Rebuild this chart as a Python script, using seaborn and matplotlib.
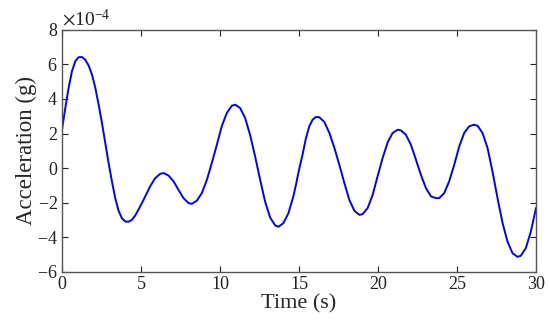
import seaborn as sns
import matplotlib.pyplot as plt
import matplotlib.ticker as mticker
import pandas as pd

# values (acceleration in units of 1e-4 g)
time_s = [0, 0.21, 0.42, 0.63, 0.84, 1.05, 1.26, 1.47, 1.69, 1.9, 2.11, 2.32, 2.53,
          2.74, 2.95, 3.16, 3.37, 3.58, 3.79, 4.0, 4.21, 4.42, 4.64, 4.95, 5.27,
          5.58, 5.9, 6.22, 6.43, 6.74, 7.06, 7.37, 7.69, 8.01, 8.22, 8.53, 8.85,
          9.17, 9.48, 9.8, 10.11, 10.43, 10.75, 10.96, 11.27, 11.59, 11.9, 12.22,
          12.54, 12.85, 13.17, 13.49, 13.7, 14.01, 14.33, 14.64, 14.81, 14.98,
          15.23, 15.44, 15.65, 15.86, 16.07, 16.29, 16.6, 16.92, 17.24, 17.55,
          17.87, 18.18, 18.5, 18.82, 19.02, 19.34, 19.66, 19.97, 20.29, 20.61,
          20.92, 21.24, 21.45, 21.76, 22.08, 22.4, 22.71, 23.03, 23.35, 23.66,
          23.87, 24.19, 24.5, 24.82, 25.14, 25.45, 25.77, 26.08, 26.3, 26.61,
          26.93, 27.24, 27.56, 27.88, 28.19, 28.51, 28.82, 29.03, 29.35, 29.67, 30.0]
accel_e4 = [2.22, 3.48, 4.64, 5.6, 6.18, 6.42, 6.43, 6.28, 5.93, 5.41, 4.64, 3.67, 2.61,
            1.45, 0.29, -0.77, -1.74, -2.47, -2.9, -3.09, -3.11, -3.0, -2.74, -2.22, -1.64,
            -1.06, -0.58, -0.33, -0.29, -0.43, -0.77, -1.26, -1.74, -2.03, -2.07, -1.89, -1.45,
            -0.68, 0.29, 1.35, 2.42, 3.19, 3.61, 3.67, 3.48, 2.9, 1.93, 0.68,
            -0.68, -1.93, -2.86, -3.32, -3.4, -3.19, -2.61, -1.64, -0.95, -0.19,
            0.81, 1.74, 2.42, 2.8, 2.96, 2.94, 2.67, 2.03, 1.16, 0.19,
            -0.87, -1.84, -2.47, -2.71, -2.67, -2.32, -1.55, -0.48, 0.58, 1.49,
            2.03, 2.22, 2.18, 1.93, 1.35, 0.48, -0.39, -1.16, -1.64, -1.74,
            -1.74, -1.45, -0.77, 0.19, 1.26, 2.03, 2.42, 2.51, 2.45, 2.03,
            1.16, -0.19, -1.74, -3.19, -4.25, -4.93, -5.14, -5.08, -4.64, -3.67, -2.3]

data = pd.DataFrame({"Time (s)": time_s, "Acceleration (g)": [v * 1e-4 for v in accel_e4]})

sns.set_theme(style="ticks")
plt.rcParams["font.family"] = ["Liberation Serif", "DejaVu Serif"]
plt.rcParams["mathtext.fontset"] = "stix"

fig = plt.figure(figsize=(5.5, 3.25), dpi=100)
ax = fig.add_axes([0.1127, 0.164, 0.862, 0.744])

sns.lineplot(data=data, x="Time (s)", y="Acceleration (g)", color="#0000ff",
             linewidth=1.4, ax=ax)

ax.set_xlim(0, 30)
ax.set_ylim(-6e-4, 8e-4)
ax.set_xticks([0, 5, 10, 15, 20, 25, 30])
ax.set_yticks([-6e-4, -4e-4, -2e-4, 0, 2e-4, 4e-4, 6e-4, 8e-4])

fmt = mticker.ScalarFormatter(useMathText=True)
fmt.set_powerlimits((-3, 3))
ax.yaxis.set_major_formatter(fmt)
ax.yaxis.get_offset_text().set_fontsize(14)

ax.tick_params(direction="in", top=True, right=True, length=4, width=0.8,
               labelsize=13, colors="#222222", pad=3)
for s in ax.spines.values():
    s.set_color("#555555")
    s.set_linewidth(1.0)

ax.set_xlabel("Time (s)", fontsize=16, labelpad=1)
ax.set_ylabel("Acceleration (g)", fontsize=16.5, labelpad=0)

fig.savefig("out.png", dpi=100)
